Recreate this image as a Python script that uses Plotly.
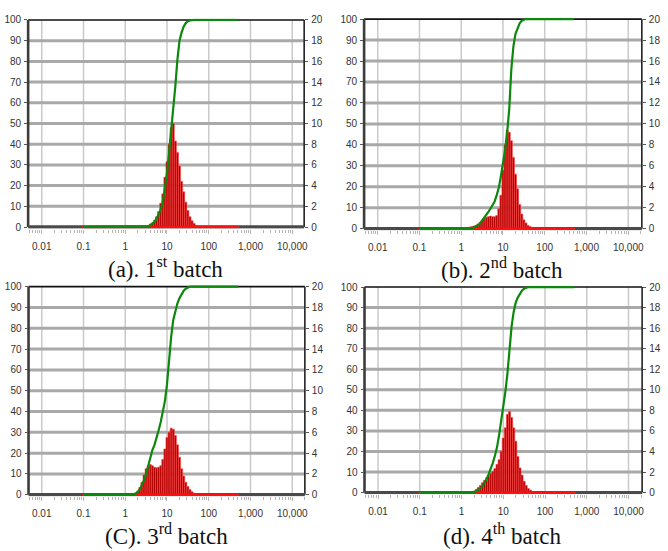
import numpy as np
import plotly.graph_objects as go

# Particle size classes (um), shared by all four batches
size_um = [0.1, 0.1122, 0.1259, 0.1413, 0.1585, 0.1778, 0.1995, 0.2239, 0.2512, 0.2818,
           0.3162, 0.3548, 0.3981, 0.4467, 0.5012, 0.5623, 0.631, 0.7079, 0.7943, 0.8913,
           1.0, 1.122, 1.259, 1.413, 1.585, 1.778, 1.995, 2.239, 2.512, 2.818,
           3.162, 3.548, 3.981, 4.467, 5.012, 5.623, 6.31, 7.079, 7.943, 8.913,
           10.0, 11.22, 12.59, 14.13, 15.85, 17.78, 19.95, 22.39, 25.12, 28.18,
           31.62, 35.48, 39.81, 44.67, 50.12, 56.23, 63.1, 70.79, 79.43, 89.13,
           100.0, 112.2, 125.9, 141.3, 158.5, 177.8, 199.5, 223.9, 251.2, 281.8,
           316.2, 354.8, 398.1, 446.7, 501.2]

# Volume frequency (%) per class  -> right axis (0-20)
freq_a = [0, 0, 0, 0, 0, 0, 0, 0, 0, 0,
          0, 0, 0, 0, 0, 0, 0, 0, 0, 0,
          0, 0, 0, 0, 0, 0, 0, 0, 0, 0,
          0, 0.15, 0.3, 0.4, 0.65, 1.0, 1.5, 2.3, 3.2, 4.8,
          6.3, 8.0, 9.6, 10.0, 8.3, 7.2, 5.9, 4.4, 3.4, 2.4,
          1.6, 1.0, 0.6, 0.35, 0.15, 0.05, 0, 0, 0, 0,
          0, 0, 0, 0, 0, 0, 0, 0, 0, 0,
          0, 0, 0, 0, 0]
freq_b = [0, 0, 0, 0, 0, 0, 0, 0, 0, 0,
          0, 0, 0, 0, 0, 0, 0, 0, 0, 0,
          0, 0, 0, 0.1, 0.15, 0.2, 0.25, 0.3, 0.45, 0.6,
          0.8, 0.95, 1.1, 1.15, 1.2, 1.15, 1.15, 1.25, 1.9, 3.2,
          5.6, 8.0, 9.4, 9.2, 8.4, 6.8, 5.2, 3.8, 2.3, 1.4,
          0.85, 0.55, 0.3, 0.2, 0.1, 0, 0, 0, 0, 0,
          0, 0, 0, 0, 0, 0, 0, 0, 0, 0,
          0, 0, 0, 0, 0]
freq_c = [0, 0, 0, 0, 0, 0, 0, 0, 0, 0,
          0, 0, 0, 0, 0, 0, 0, 0, 0, 0,
          0, 0, 0, 0, 0.05, 0.15, 0.35, 0.7, 1.2, 1.9,
          2.5, 2.8, 2.9, 2.8, 2.65, 2.6, 2.65, 2.8, 3.4, 4.4,
          5.5, 6.0, 6.4, 6.3, 5.7, 4.8, 3.6, 2.5, 1.8, 1.2,
          0.8, 0.5, 0.3, 0.15, 0.05, 0, 0, 0, 0, 0,
          0, 0, 0, 0, 0, 0, 0, 0, 0, 0,
          0, 0, 0, 0, 0]
freq_d = [0, 0, 0, 0, 0, 0, 0, 0, 0, 0,
          0, 0, 0, 0, 0, 0, 0, 0, 0, 0,
          0, 0, 0, 0, 0, 0.1, 0.15, 0.3, 0.5, 0.7,
          0.95, 1.2, 1.45, 1.65, 1.85, 2.05, 2.35, 2.75, 3.2, 4.0,
          5.3, 6.3, 7.6, 7.9, 7.3, 6.3, 5.0, 3.5, 2.4, 1.7,
          1.1, 0.7, 0.4, 0.25, 0.1, 0, 0, 0, 0, 0,
          0, 0, 0, 0, 0, 0, 0, 0, 0, 0,
          0, 0, 0, 0, 0]

# Cumulative undersize (%) -> left axis (0-100)
cum_a = [0, 0, 0, 0, 0, 0, 0, 0, 0, 0,
         0, 0, 0, 0, 0, 0, 0, 0, 0, 0,
         0, 0, 0, 0, 0, 0, 0, 0, 0, 0,
         0, 0.3, 0.8, 1.5, 2.5, 4, 6, 8.5, 12, 18,
         26, 36, 46, 57, 68, 81, 90, 94, 96.8, 98.5,
         99.4, 99.8, 100, 100, 100, 100, 100, 100, 100, 100,
         100, 100, 100, 100, 100, 100, 100, 100, 100, 100,
         100, 100, 100, 100, 100]
cum_b = [0, 0, 0, 0, 0, 0, 0, 0, 0, 0,
         0, 0, 0, 0, 0, 0, 0, 0, 0, 0,
         0, 0, 0, 0, 0.1, 0.3, 0.6, 1.0, 1.6, 2.5,
         3.8, 5, 6.5, 8, 9.5, 11, 13, 16, 19.5, 25,
         31, 37.5, 46, 57, 76, 87, 93, 96, 98, 99.2,
         99.7, 100, 100, 100, 100, 100, 100, 100, 100, 100,
         100, 100, 100, 100, 100, 100, 100, 100, 100, 100,
         100, 100, 100, 100, 100]
cum_c = [0, 0, 0, 0, 0, 0, 0, 0, 0, 0,
         0, 0, 0, 0, 0, 0, 0, 0, 0, 0,
         0, 0, 0, 0, 0.2, 0.6, 1.4, 2.7, 4.5, 7,
         10, 14, 18.5, 21.5, 24, 27, 31, 35, 39.5, 45,
         53, 65, 76, 84, 88.5, 92, 94.5, 96.5, 98, 99,
         99.7, 100, 100, 100, 100, 100, 100, 100, 100, 100,
         100, 100, 100, 100, 100, 100, 100, 100, 100, 100,
         100, 100, 100, 100, 100]
cum_d = [0, 0, 0, 0, 0, 0, 0, 0, 0, 0,
         0, 0, 0, 0, 0, 0, 0, 0, 0, 0,
         0, 0, 0, 0, 0, 0, 0.3, 0.7, 1.3, 2,
         3, 4.5, 6.5, 9, 11.5, 14.5, 18, 22, 28, 34.5,
         42, 49, 58, 70, 81, 88, 92.5, 95, 97, 98.3,
         99.2, 99.7, 100, 100, 100, 100, 100, 100, 100, 100,
         100, 100, 100, 100, 100, 100, 100, 100, 100, 100,
         100, 100, 100, 100, 100]

captions = ["(a). 1<sup>st</sup> batch", "(b). 2<sup>nd</sup> batch",
            "(C). 3<sup>rd</sup> batch", "(d). 4<sup>th</sup> batch"]
x_tick_vals = [0.01, 0.1, 1, 10, 100, 1000, 10000]
x_tick_text = ["0.01", "0.1", "1", "10", "100", "1,000", "10,000"]
left_ticks = [0, 10, 20, 30, 40, 50, 60, 70, 80, 90, 100]
right_ticks = [0, 2, 4, 6, 8, 10, 12, 14, 16, 18, 20]

W, H = 668, 551
# pixel geometry of each panel: left, right, top(100), bottom(0), x of 0.01, caption centre
geo = [
    dict(L=28.3, R=306, T=16.2, B=226.3, x0=42, cx=166, cy=267),
    dict(L=366.3, R=645.7, T=15.3, B=228, x0=380, cx=505, cy=268),
    dict(L=28.7, R=306.7, T=286.8, B=498, x0=42, cx=167, cy=538),
    dict(L=366.7, R=646, T=287.2, B=495.8, x0=380.3, cx=505, cy=538),
]
freqs = [freq_a, freq_b, freq_c, freq_d]
cums = [cum_a, cum_b, cum_c, cum_d]

s = np.array(size_um)
mids = np.sqrt(s[:-1] * s[1:])
left_edge = np.concatenate([[s[0] ** 2 / mids[0]], mids])
right_edge = np.concatenate([mids, [s[-1] ** 2 / mids[-1]]])
bar_w = right_edge - left_edge

minor_vals = [d * m for d in [0.001, 0.01, 0.1, 1, 10, 100, 1000, 10000] for m in range(2, 10)]

tick_font = dict(family="Liberation Sans, Arial, sans-serif", size=10, color="#333333")

fig = go.Figure()
layout = dict(width=W, height=H, margin=dict(l=0, r=0, t=0, b=0),
              paper_bgcolor="white", plot_bgcolor="white", showlegend=False,
              barmode="overlay")
shapes = []
annotations = []
PAD = 1.6
for i, g in enumerate(geo):
    xn = "" if i == 0 else str(i + 1)
    yb = "" if i == 0 else str(2 * i + 1)      # base axis (right, 0-20): bars
    yo = str(2 * i + 2)                          # overlay axis (left, 0-100): cumulative
    ppu = (g["B"] - g["T"]) / 20.0
    padu = PAD / ppu
    xdom = [g["L"] / W, g["R"] / W]
    ydom = [1 - (g["B"] + PAD) / H, 1 - (g["T"] - PAD) / H]
    xr = [-2 - (g["x0"] - g["L"]) / 42.0, -2 + (g["R"] - g["x0"]) / 42.0]

    layout["xaxis" + xn] = dict(type="log", domain=xdom, range=xr, anchor="y" + yb,
                                tickmode="array", tickvals=x_tick_vals, ticktext=x_tick_text,
                                showgrid=False,
                                ticks="outside", ticklen=4, tickcolor="#b5b5b5",
                                ticklabelstandoff=4,
                                minor=dict(tickmode="array", tickvals=minor_vals, ticks="outside",
                                           ticklen=3, tickcolor="#b5b5b5", showgrid=False),
                                showline=False, zeroline=False, tickfont=tick_font,
                                fixedrange=True)
    layout["yaxis" + yb] = dict(domain=ydom, range=[-padu, 20 + padu], anchor="x" + xn,
                                side="right", tickmode="array", tickvals=right_ticks,
                                ticks="outside", ticklen=3, tickcolor="#555555",
                                showgrid=False, zeroline=False, showline=False,
                                tickfont=tick_font, ticklabelstandoff=1, fixedrange=True)
    layout["yaxis" + yo] = dict(domain=ydom, range=[-padu * 5, 100 + padu * 5], anchor="x" + xn,
                                overlaying="y" + yb, side="left", tickmode="array",
                                tickvals=left_ticks, ticks="outside", ticklen=3,
                                tickcolor="#555555", showgrid=False, zeroline=False,
                                showline=False, tickfont=tick_font, ticklabelstandoff=1,
                                fixedrange=True)

    xd = "x" + xn + " domain"
    yref = "y" + yb
    for v in x_tick_vals:
        f = (np.log10(v) - xr[0]) / (xr[1] - xr[0])
        shapes.append(dict(type="line", xref=xd, yref=yref, x0=f, x1=f, y0=0, y1=20,
                           line=dict(color="#cacaca", width=1.5), layer="below"))
    for v in right_ticks[1:-1]:
        shapes.append(dict(type="line", xref=xd, yref=yref, x0=0, x1=1, y0=v, y1=v,
                           line=dict(color="#a9a9a9", width=3), layer="below"))
    shapes.append(dict(type="line", xref=xd, yref=yref, x0=0, x1=1, y0=20, y1=20,
                       line=dict(color="#111111", width=1.6), layer="below"))
    shapes.append(dict(type="line", xref=xd, yref=yref, x0=1, x1=1, y0=0, y1=20,
                       line=dict(color="#222222", width=1.6), layer="below"))
    shapes.append(dict(type="line", xref=xd, yref=yref, x0=0, x1=0, y0=0, y1=20,
                       line=dict(color="#3c3c3c", width=2.6), layer="below"))
    shapes.append(dict(type="line", xref=xd, yref=yref, x0=0, x1=1, y0=0, y1=0,
                       line=dict(color="#4a4a4a", width=3.4), layer="below"))

    fig.add_trace(go.Bar(x=left_edge, y=freqs[i], width=bar_w, offset=0,
                         xaxis="x" + xn, yaxis="y" + yb,
                         marker=dict(color="#b10000", line=dict(color="#ff4545", width=0.6))))
    fig.add_trace(go.Scatter(x=[left_edge[0], size_um[-1]], y=[0, 0], mode="lines",
                             xaxis="x" + xn, yaxis="y" + yb,
                             line=dict(color="#ff1010", width=2.6)))
    fig.add_trace(go.Scatter(x=size_um, y=cums[i], mode="lines",
                             xaxis="x" + xn, yaxis="y" + yo,
                             line=dict(color="#0c880c", width=2.2)))

    annotations.append(dict(text=captions[i], xref="paper", yref="paper",
                            x=g["cx"] / W, y=1 - g["cy"] / H, xanchor="center", yanchor="middle",
                            showarrow=False,
                            font=dict(family="Times New Roman, Liberation Serif, serif",
                                      size=23, color="#111111")))

layout["shapes"] = shapes
layout["annotations"] = annotations
fig.update_layout(**layout)
fig.write_html("out.html", config={"displayModeBar": False},
               post_script="document.body.style.margin='0';document.body.style.overflow='hidden';")
